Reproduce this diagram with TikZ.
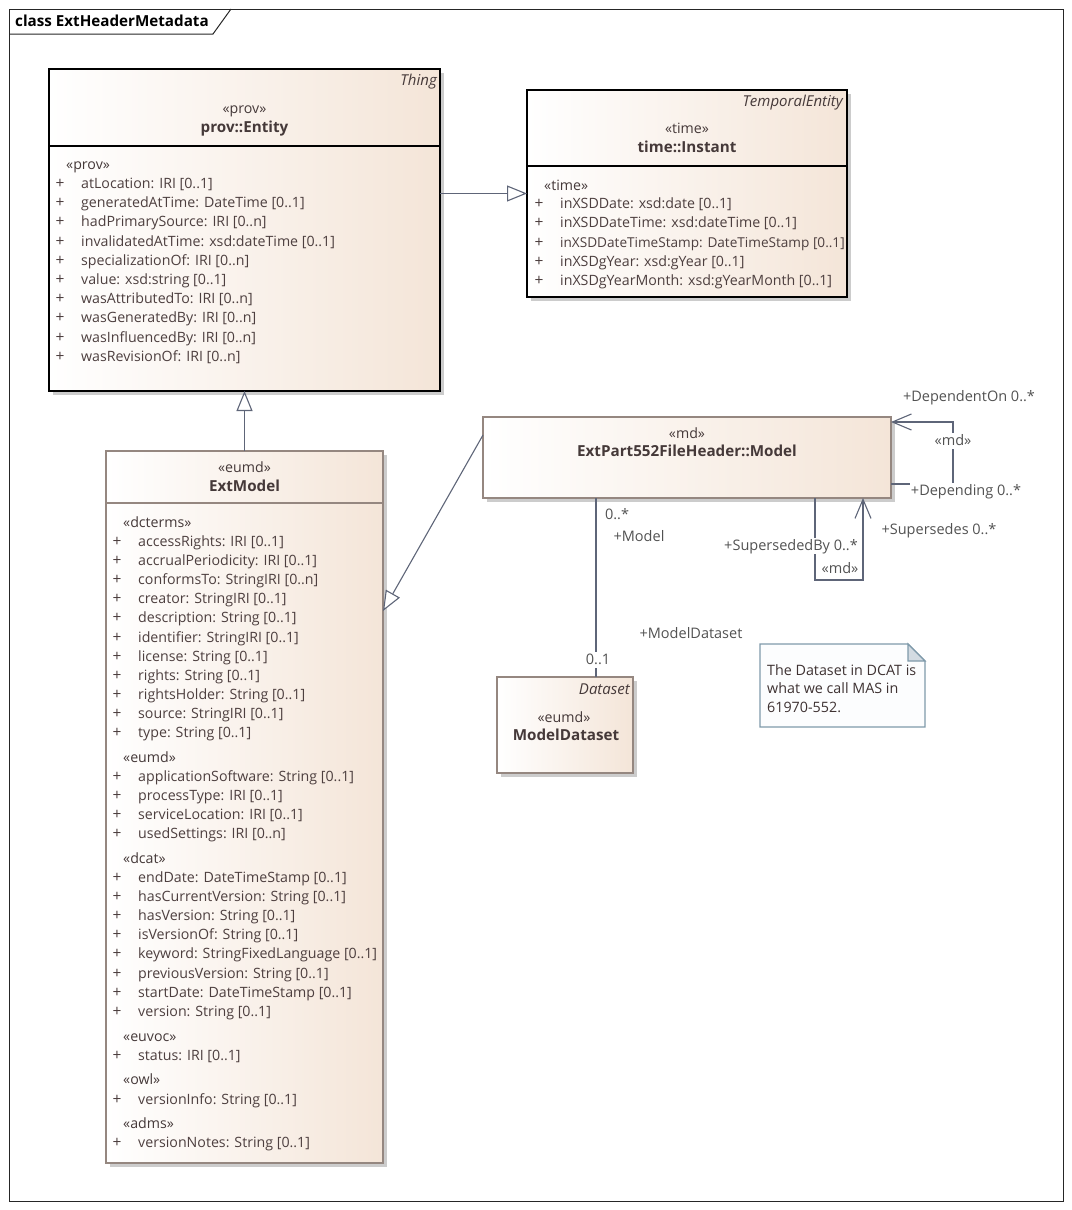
\documentclass[tikz,border=0pt]{standalone}
\usepackage{fontspec}
\setmainfont{Open Sans}
\usetikzlibrary{arrows.meta,shadows}

\definecolor{clsfill}{HTML}{F4E5D8}
\definecolor{clsline}{HTML}{958780}
\definecolor{txt}{HTML}{4D3F3F}
\definecolor{conn}{HTML}{5E6578}
\definecolor{notefill}{HTML}{FCFDFE}
\definecolor{noteline}{HTML}{7F9AAA}
\definecolor{foldfill}{HTML}{D3DBE2}

\tikzset{
  cls/.style={draw=#1, line width=1.2pt, left color=white, right color=clsfill,
    anchor=north west, inner sep=0pt, outer sep=0pt,
    drop shadow={shadow xshift=4pt, shadow yshift=-4pt, fill=black!20, opacity=1}},
  sep/.style={draw=#1, line width=1.2pt},
  attr/.style={anchor=west, inner sep=0pt, text=txt, font=\fontsize{14.2}{16}\selectfont,
    text height=11.5pt, text depth=2.5pt},
  plus/.style={attr, anchor=center, font=\fontsize{15.5}{16}\selectfont},
  stereo/.style={inner sep=0pt, text=txt!90!black, font=\fontsize{14.2}{16}\selectfont,
    text height=11.5pt, text depth=2.5pt},
  cname/.style={stereo, font=\fontsize{15.2}{17}\selectfont\bfseries},
  kind/.style={anchor=east, inner sep=0pt, text=txt!90!black, font=\fontsize{15}{17}\selectfont\itshape,
    text height=11.5pt, text depth=2.5pt},
  lbl/.style={inner sep=1pt, text=black!68, font=\fontsize{14.5}{16}\selectfont,
    text height=11pt, text depth=2.5pt},
  lblw/.style={lbl, fill=white},
  gen/.style={draw=conn, line width=1.1pt, -{Triangle[open, fill=white, length=20pt, width=16pt]}},
  assoc/.style={draw=conn, line width=1.1pt},
  nav/.style={assoc, -{Straight Barb[length=19pt, width=16pt]}},
  frame/.style={draw=black!85, line width=1pt}
}

\begin{document}
\begin{tikzpicture}[x=1pt,y=-1pt]
\useasboundingbox (0,0) rectangle (1071,1210);

% diagram frame
\draw[frame] (9,9) rectangle (1063,1201);
\draw[frame] (9,34) -- (213,34) -- (231,9);
\node[anchor=west, inner sep=0pt, font=\fontsize{15.2}{17}\selectfont\bfseries] (ttl) at (15,21) {class ExtHeaderMetadata};

% prov::Entity
\node[cls=black, minimum width=391pt, minimum height=322pt] (ent) at (49,69) {};
\draw[sep=black] (ent.west |- 0,146) -- (ent.east |- 0,146);
\node[kind] (entk) at (437,81) {Thing};
\node[stereo] (ents) at (ent.north |- 0,109) {«prov»};
\node[cname] (entn) at (ent.north |- 0,128) {prov::Entity};
\node[stereo, anchor=west] (entg) at (66,165) {«prov»};
\foreach \t [count=\i from 0] in {atLocation: IRI [0..1], generatedAtTime: DateTime [0..1],
    hadPrimarySource: IRI [0..n], invalidatedAtTime: xsd:dateTime [0..1],
    specializationOf: IRI [0..n], value: xsd:string [0..1], wasAttributedTo: IRI [0..n],
    wasGeneratedBy: IRI [0..n], wasInfluencedBy: IRI [0..n], wasRevisionOf: IRI [0..n]} {
  \node[plus] (entp\i) at (60,{184+19.2*\i}) {+};
  \node[attr] (enta\i) at (81,{184+19.2*\i}) {\t};
}

% time::Instant
\node[cls=black, minimum width=320pt, minimum height=207pt] (ins) at (527,90) {};
\draw[sep=black] (ins.west |- 0,166) -- (ins.east |- 0,166);
\node[kind] (insk) at (843,102) {TemporalEntity};
\node[stereo] (inss) at (ins.north |- 0,129) {«time»};
\node[cname] (insn) at (ins.north |- 0,148) {time::Instant};
\node[stereo, anchor=west] (insg) at (544,186) {«time»};
\foreach \t [count=\i from 0] in {inXSDDate: xsd:date [0..1], inXSDDateTime: xsd:dateTime [0..1],
    {\fontsize{13.6}{16}\selectfont inXSDDateTimeStamp: DateTimeStamp [0..1]}, inXSDgYear: xsd:gYear [0..1],
    inXSDgYearMonth: xsd:gYearMonth [0..1]} {
  \node[plus] (insp\i) at (539,{204+19.3*\i}) {+};
  \node[attr] (insa\i) at (560,{204+19.3*\i}) {\t};
}

% ExtModel
\node[cls=clsline, minimum width=277pt, minimum height=712pt] (ext) at (106,451) {};
\draw[sep=clsline] (ext.west |- 0,503) -- (ext.east |- 0,503);
\node[stereo] (exts) at (ext.north |- 0,468) {«eumd»};
\node[cname] (extn) at (ext.north |- 0,487) {ExtModel};
\node[stereo, anchor=west] (dcg) at (123,523) {«dcterms»};
\foreach \t [count=\i from 0] in {accessRights: IRI [0..1], accrualPeriodicity: IRI [0..1],
    conformsTo: StringIRI [0..n], creator: StringIRI [0..1], description: String [0..1],
    identifier: StringIRI [0..1], license: String [0..1], rights: String [0..1],
    rightsHolder: String [0..1], source: StringIRI [0..1], type: String [0..1]} {
  \node[plus] (dcp\i) at (117,{542+19.1*\i}) {+};
  \node[attr] (dca\i) at (138,{542+19.1*\i}) {\t};
}
\node[stereo, anchor=west] (eug) at (123,758) {«eumd»};
\foreach \t [count=\i from 0] in {applicationSoftware: String [0..1], processType: IRI [0..1],
    serviceLocation: IRI [0..1], usedSettings: IRI [0..n]} {
  \node[plus] (eup\i) at (117,{777+19.1*\i}) {+};
  \node[attr] (eua\i) at (138,{777+19.1*\i}) {\t};
}
\node[stereo, anchor=west] (dtg) at (123,859) {«dcat»};
\foreach \t [count=\i from 0] in {endDate: DateTimeStamp [0..1], hasCurrentVersion: String [0..1],
    hasVersion: String [0..1], isVersionOf: String [0..1], keyword: StringFixedLanguage [0..1],
    previousVersion: String [0..1], startDate: DateTimeStamp [0..1], version: String [0..1]} {
  \node[plus] (dtp\i) at (117,{878+19.1*\i}) {+};
  \node[attr] (dta\i) at (138,{878+19.1*\i}) {\t};
}
\node[stereo, anchor=west] (vog) at (123,1037) {«euvoc»};
\node[plus] (vop) at (117,1056) {+};
\node[attr] (voa) at (138,1056) {status: IRI [0..1]};
\node[stereo, anchor=west] (owg) at (123,1080) {«owl»};
\node[plus] (owp) at (117,1100) {+};
\node[attr] (owa) at (138,1100) {versionInfo: String [0..1]};
\node[stereo, anchor=west] (adg) at (123,1124) {«adms»};
\node[plus] (adp) at (117,1143) {+};
\node[attr] (ada) at (138,1143) {versionNotes: String [0..1]};

% ExtPart552FileHeader::Model
\node[cls=clsline, minimum width=408pt, minimum height=81pt] (mdl) at (483,417) {};
\node[stereo] (mdls) at (mdl.north |- 0,434) {«md»};
\node[cname] (mdln) at (mdl.north |- 0,452) {ExtPart552FileHeader::Model};

% ModelDataset
\node[cls=clsline, minimum width=136pt, minimum height=96pt] (ds) at (497,677) {};
\node[kind] (dsk) at (630,690) {Dataset};
\node[stereo] (dss) at (564,718) {«eumd»};
\node[cname] (dsn) at (566,736) {ModelDataset};

% note
\draw[draw=noteline, fill=notefill, line width=1.1pt] (760,644) -- (908,644) -- (925,661) -- (925,727) -- (760,727) -- cycle;
\filldraw[draw=noteline, fill=foldfill, line width=1.1pt] (908,644) -- (908,661) -- (925,661) -- cycle;
\node[anchor=north west, inner sep=0pt, align=left, text=txt!80!black,
  font=\fontsize{14.3}{18.6}\selectfont] (nt) at (767,664) {The Dataset in DCAT is\\what we call MAS in\\61970-552.};

% connectors
\draw[gen] (ent.east |- ins.west) -- (ins.west);
\draw[gen] (ext.north) -- (ent.south);
\draw[gen] ([yshift=-18pt]mdl.north west) -- ([yshift=-160pt]ext.north east);
\coordinate (asx) at (596,0);
\draw[assoc] (mdl.south -| asx) -- (ds.north -| asx);
\draw[nav] ([yshift=-67pt]mdl.north east) -- ++(62,0) |- ([yshift=-5pt]mdl.north east);
\draw[nav] ([xshift=-76pt]mdl.south east) -- ++(0,82) -| ([xshift=-28pt]mdl.south east);

% connector labels
\node[lbl] (l1) at (617,515) {0..*};
\node[lbl] (l2) at (639,537) {+Model};
\node[lbl] (l3) at (691,634) {+ModelDataset};
\node[lblw] (l4) at (598,660) {0..1};
\node[lbl] (l5) at (969,397) {+DependentOn 0..*};
\node[lblw] (l6) at (953,441) {«md»};
\node[lblw] (l7) at (966,491) {+Depending 0..*};
\node[lbl] (l8) at (939,530) {+Supersedes 0..*};
\node[lblw] (l9) at (791,546) {+SupersededBy 0..*};
\node[lbl] (l10) at (840,569) {«md»};
\end{tikzpicture}
\end{document}
